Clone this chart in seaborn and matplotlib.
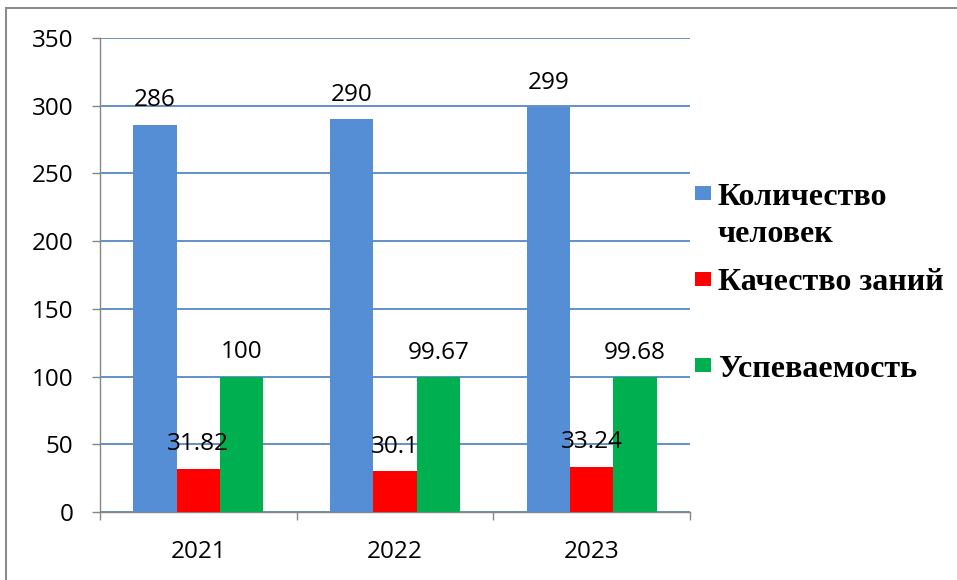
import matplotlib
matplotlib.use("Agg")
import matplotlib.pyplot as plt
import matplotlib.patches as mpatches
import seaborn as sns
import pandas as pd

years = ["2021", "2022", "2023"]
series_names = ["Количество\nчеловек", "Качество заний", "Успеваемость"]
count_people = [286, 290, 299]
quality = [31.82, 30.1, 33.24]
progress = [100, 99.67, 99.68]
colors = ["#558ED5", "#FF0000", "#00B050"]
y_ticks = [0, 50, 100, 150, 200, 250, 300, 350]

rows = []
for name, vals in zip(series_names, [count_people, quality, progress]):
    for y, v in zip(years, vals):
        rows.append({"year": y, "series": name, "value": v})
df = pd.DataFrame(rows)

sns.set_theme(style="white")
plt.rcParams['font.family'] = ['Open Sans', 'DejaVu Sans']

W, H = 957, 580
fig = plt.figure(figsize=(W / 100, H / 100), dpi=100)
ax = fig.add_axes([100 / W, 1 - 512 / H, 590 / W, 474 / H])

sns.barplot(data=df, x="year", y="value", hue="series", hue_order=series_names,
            palette=colors, width=0.66, ax=ax, legend=False, linewidth=0,
            saturation=1, errorbar=None, zorder=3)

for cont in ax.containers:
    ax.bar_label(cont, fmt="%g", padding=9, fontsize=17.5, color="black", zorder=5)

ax.set_xlim(-0.5, 2.5)
ax.set_ylim(0, 350)
ax.set_yticks(y_ticks)
ax.set_yticklabels([str(t) for t in y_ticks])
ax.set_xlabel("")
ax.set_ylabel("")

ax.yaxis.grid(True, color="#4A7EBB", linewidth=1.2, zorder=0)
ax.set_axisbelow(True)
ax.xaxis.grid(False)

for side in ["top", "right"]:
    ax.spines[side].set_visible(False)
for side in ["left", "bottom"]:
    ax.spines[side].set_color("#868686")
    ax.spines[side].set_linewidth(1.0)

ax.tick_params(axis="y", which="major", left=True, length=6, width=1.0, color="#868686",
               pad=13, labelsize=17.5, labelcolor="black")
ax.tick_params(axis="x", which="major", bottom=False, length=0, pad=20, labelsize=17.5,
               labelcolor="black")
ax.set_xticks([-0.5, 0.5, 1.5, 2.5], minor=True)
ax.tick_params(axis="x", which="minor", bottom=True, length=6, width=1.0, color="#868686",
               direction="out")

# legend (manual, to match layout)
leg_font = dict(family=['Liberation Serif', 'DejaVu Serif'], weight='bold', size=23,
                color='black')
marker_y = [193, 279, 365]
text_lines = [[("Количество", 205), ("человек", 242)],
              [("Качество заний", 290)],
              [("Успеваемость", 377)]]
for c, my, lines in zip(colors, marker_y, text_lines):
    fig.patches.append(mpatches.Rectangle((695 / W, 1 - (my + 7) / H), 16 / W, 14 / H,
                                          transform=fig.transFigure, facecolor=c,
                                          edgecolor='none'))
    for txt, by in lines:
        fig.text(718 / W, 1 - by / H, txt, va='baseline', ha='left', **leg_font)

# outer chart border
fig.patches.append(mpatches.Rectangle((6 / W, -0.1), 1.2, 1 - 8 / H + 0.1,
                                      transform=fig.transFigure, facecolor='none',
                                      edgecolor='#8C8C8C', linewidth=1.5))

fig.savefig("out.png", dpi=100)
